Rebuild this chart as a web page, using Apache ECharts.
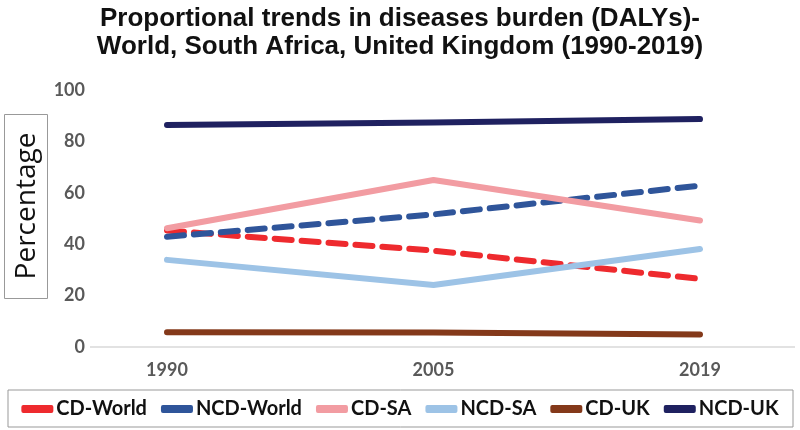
<!DOCTYPE html>
<html><head><meta charset="utf-8">
<script src="https://cdn.jsdelivr.net/npm/echarts@6/dist/echarts.min.js"></script>
<style>html,body{margin:0;padding:0;background:#fff}#c{width:800px;height:430px}</style>
</head><body><div id="c"></div>
<script>
const years = ['1990', '2005', '2019'];
const cdWorld = [45.3, 37.5, 26.5];
const ncdWorld = [42.9, 51.6, 62.8];
const cdSA = [46.2, 65.0, 49.2];
const ncdSA = [33.9, 24.1, 38.1];
const cdUK = [5.7, 5.6, 4.9];
const ncdUK = [86.4, 87.4, 88.7];
const yTicks = [0, 20, 40, 60, 80, 100];

const chart = echarts.init(document.getElementById('c'));
const lbl = {fontFamily: 'Lato', fontWeight: 'bold', fontSize: 18, color: '#595959'};
function mk(name, data, color, dashed) {
  return {
    name, type: 'line', data, symbol: 'none', smooth: false,
    lineStyle: {color, width: 6, cap: 'round', join: 'round', type: dashed ? [17, 10] : 'solid'},
    itemStyle: {color}
  };
}
chart.setOption({
  animation: false,
  title: {
    text: 'Proportional trends in diseases burden (DALYs)-\nWorld, South Africa, United Kingdom (1990-2019)',
    left: 'center', top: 0, padding: [5, 0, 5, 24],
    textStyle: {fontFamily: 'Liberation Sans', fontWeight: 'bold', fontSize: 26, lineHeight: 28, color: '#111'}
  },
  grid: {left: 167, right: 100, top: 90, bottom: 83, outerBoundsMode: 'none', containLabel: false},
  xAxis: {
    type: 'category', data: years, boundaryGap: false,
    axisLine: {show: false}, axisTick: {show: false},
    axisLabel: Object.assign({margin: 14}, lbl)
  },
  yAxis: {
    type: 'value', min: yTicks[0], max: yTicks[yTicks.length - 1], interval: 20,
    splitLine: {show: false}, axisLine: {show: false}, axisTick: {show: false},
    axisLabel: Object.assign({margin: 82}, lbl)
  },
  legend: {
    top: 394, left: 'center', itemWidth: 32, itemHeight: 8, itemGap: 14,
    icon: 'roundRect',
    textStyle: {fontFamily: 'Lato', fontWeight: 'bold', fontSize: 20, color: '#111', padding: [0, 0, 0, -2]},
    data: ['CD-World', 'NCD-World', 'CD-SA', 'NCD-SA', 'CD-UK', 'NCD-UK']
  },
  graphic: [
    {type: 'line', shape: {x1: 90, y1: 347, x2: 795, y2: 347}, style: {stroke: '#d9d9d9', lineWidth: 1.5}, z: 0},
    {type: 'rect', shape: {x: 8, y: 390, width: 785, height: 37}, style: {fill: 'none', stroke: '#999', lineWidth: 1}},
    {type: 'rect', shape: {x: 4.5, y: 114.5, width: 43, height: 184}, style: {fill: 'none', stroke: '#999', lineWidth: 1}},
    {type: 'text', x: 27, y: 206, rotation: Math.PI / 2,
     style: {text: 'Percentage', fontFamily: 'Open Sans', fontSize: 28, fill: '#111', align: 'center', verticalAlign: 'middle'}}
  ],
  series: [
    mk('CD-World', cdWorld, '#ee2a2e', true),
    mk('NCD-World', ncdWorld, '#2f559a', true),
    mk('CD-SA', cdSA, '#f29ca2', false),
    mk('NCD-SA', ncdSA, '#9dc3e6', false),
    mk('CD-UK', cdUK, '#84391a', false),
    mk('NCD-UK', ncdUK, '#1f2160', false)
  ]
});
</script></body></html>
